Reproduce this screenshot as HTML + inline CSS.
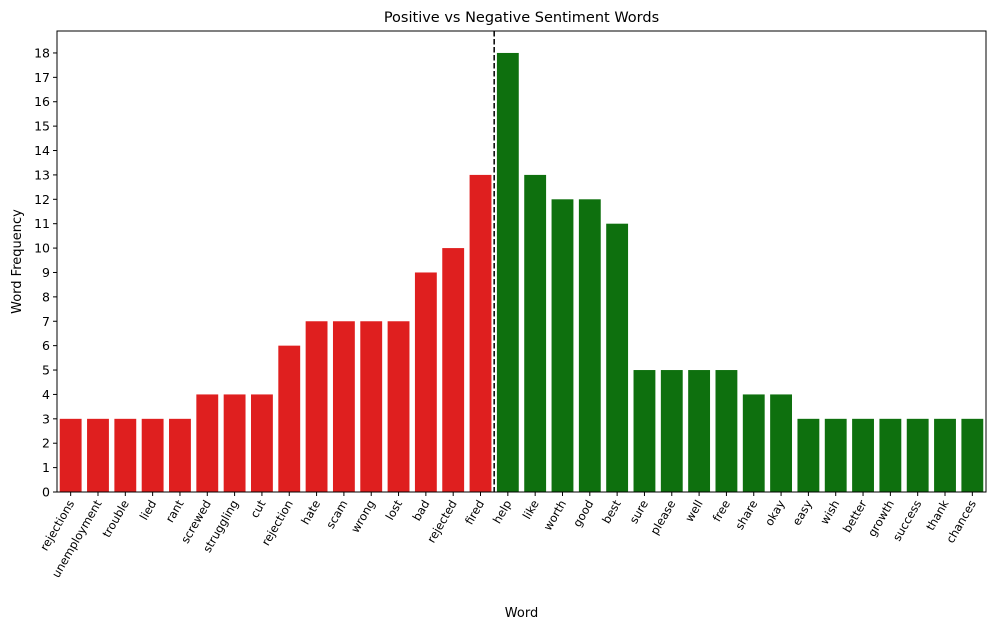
<!DOCTYPE html>
<html><head><meta charset="utf-8"><style>body{margin:0;background:#fff}svg{display:block;font-family:"DejaVu Sans","Liberation Sans",sans-serif}</style></head>
<body>
<svg id="chart" width="997" height="629" viewBox="0 0 997 629"></svg>
<script>
const categories=["rejections","unemployment","trouble","lied","rant","screwed","struggling","cut","rejection","hate","scam","wrong","lost","bad","rejected","fired","help","like","worth","good","best","sure","please","well","free","share","okay","easy","wish","better","growth","success","thank","chances"];
const values=[3,3,3,3,3,4,4,4,6,7,7,7,7,9,10,13,18,13,12,12,11,5,5,5,5,4,4,3,3,3,3,3,3,3];
const negativeCount=16;
const yTicks=[0,1,2,3,4,5,6,7,8,9,10,11,12,13,14,15,16,17,18];
const L=57,R=986,T=31,B=492,yMax=18.9;
const svg=document.getElementById('chart');const NS='http://www.w3.org/2000/svg';
const xs=i=>L+(i+0.5)*(R-L)/categories.length;
const bw=0.8*(R-L)/categories.length;
const ys=v=>B-v*(B-T)/yMax;
function mk(t,a,txt){const e=document.createElementNS(NS,t);for(const k in a)e.setAttribute(k,a[k]);if(txt!==undefined)e.textContent=txt;svg.appendChild(e);return e;}
values.forEach((v,i)=>{const r=mk('rect',{x:xs(i)-bw/2,y:ys(v),width:bw,height:B-ys(v),fill:i<negativeCount?'#df1f1f':'#0e700e'});

});
const dl=mk('line',{x1:(xs(negativeCount-1)+xs(negativeCount))/2,x2:(xs(negativeCount-1)+xs(negativeCount))/2,y1:T,y2:B,stroke:'#000','stroke-width':1.5,'stroke-dasharray':'5.5,2.5'});


const fr=mk('rect',{x:L,y:T,width:R-L,height:B-T,fill:'none',stroke:'#000','stroke-width':1});


yTicks.forEach(t=>{mk('line',{x1:L-4,x2:L,y1:ys(t),y2:ys(t),stroke:'#000'});
const tx=mk('text',{x:L-7,y:ys(t)+4.5,'text-anchor':'end','font-size':12.5},t);

});
categories.forEach((c,i)=>{mk('line',{x1:xs(i),x2:xs(i),y1:B,y2:B+4,stroke:'#000'});
const tx=mk('text',{x:xs(i)+4,y:B+11,'text-anchor':'end','font-size':11.5,transform:`rotate(-60 ${xs(i)+4} ${B+11})`},c);

});
const ti=mk('text',{x:(L+R)/2,y:22,'text-anchor':'middle','font-size':14.5},'Positive vs Negative Sentiment Words');


const xl=mk('text',{x:(L+R)/2,y:617,'text-anchor':'middle','font-size':13},'Word');


const yl=mk('text',{x:21,y:(T+B)/2,'text-anchor':'middle','font-size':13,transform:`rotate(-90 21 ${(T+B)/2})`},'Word Frequency');


</script>
</body></html>
